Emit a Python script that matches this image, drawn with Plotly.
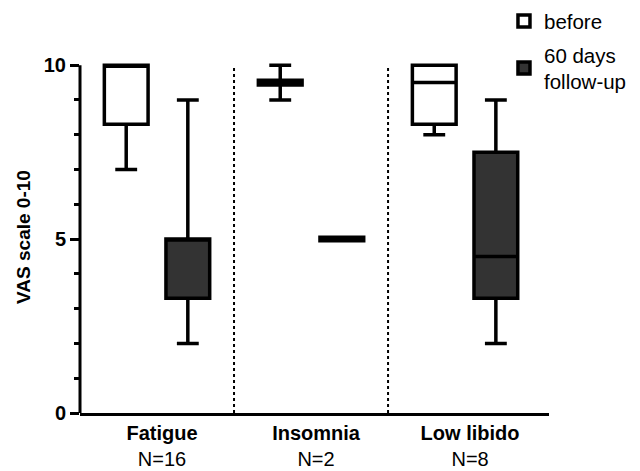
import plotly.graph_objects as go

categories = ["Fatigue", "Insomnia", "Low libido"]
n_labels = ["N=16", "N=2", "N=8"]

# before
before_low = [7.0, 9.0, 8.0]
before_q1 = [8.3, 9.43, 8.3]
before_med = [10.0, 9.5, 9.5]
before_q3 = [10.0, 9.57, 10.0]
before_high = [10.0, 10.0, 10.0]

# 60 days follow-up
after_low = [2.0, 5.0, 2.0]
after_q1 = [3.3, 4.95, 3.3]
after_med = [5.0, 5.0, 4.5]
after_q3 = [5.0, 5.05, 7.5]
after_high = [9.0, 5.0, 9.0]

y_ticks = [0, 5, 10]

FONT = "Liberation Sans, Arial, sans-serif"

fig = go.Figure()
fig.add_trace(go.Box(
    name="before", x=categories,
    q1=before_q1, median=before_med, q3=before_q3,
    lowerfence=before_low, upperfence=before_high,
    fillcolor="white", line=dict(color="black", width=3.5),
    whiskerwidth=0.5, boxpoints=False, legendgroup="a",
))
fig.add_trace(go.Box(
    name="60 days<br>follow-up", x=categories,
    q1=after_q1, median=after_med, q3=after_q3,
    lowerfence=after_low, upperfence=after_high,
    fillcolor="#333333", line=dict(color="black", width=3.5),
    whiskerwidth=0.5, boxpoints=False, legendgroup="b",
))

# separators between categories
for i in range(len(categories) - 1):
    fig.add_shape(type="line", xref="x", yref="y", x0=i + 0.5, x1=i + 0.5,
                  y0=y_ticks[0], y1=y_ticks[-1],
                  line=dict(color="black", width=2, dash="dot"))
# y axis line from 0 to 10
fig.add_shape(type="line", xref="paper", yref="y", x0=0, x1=0,
              y0=y_ticks[0], y1=y_ticks[-1], line=dict(color="black", width=3))

# the page body adds an 8px offset, so the figure is 8px smaller on each side
fig.update_layout(
    width=632, height=463,
    margin=dict(l=72, r=91, t=53, b=58, autoexpand=False),
    plot_bgcolor="white", paper_bgcolor="white",
    boxmode="group", boxgap=0.2, boxgroupgap=0.29,
    font=dict(family=FONT, size=20, color="black"),
    showlegend=True,
    legend=dict(x=0.904, y=1.17, xanchor="left", yanchor="top",
                font=dict(size=20.5, family=FONT, color="black"),
                traceorder="grouped", tracegroupgap=4,
                bgcolor="rgba(0,0,0,0)"),
)
fig.update_xaxes(
    type="category", range=[-0.5, 2.545],
    tickmode="array", tickvals=categories,
    ticktext=[f"<b>{c}</b><br>{n}" for c, n in zip(categories, n_labels)],
    showline=True, linecolor="black", linewidth=3,
    ticks="", showgrid=False, zeroline=False,
    ticklabelshift=5,
    tickfont=dict(size=20, family=FONT, color="black"),
)
fig.update_yaxes(
    range=[0, 10.12],
    tickmode="array", tickvals=y_ticks,
    ticktext=[f"<b>{v}</b>" for v in y_ticks],
    ticks="outside", ticklen=9, tickwidth=2.5, tickcolor="black",
    minor=dict(dtick=1, ticks="outside", ticklen=5, tickwidth=2.5, tickcolor="black", showgrid=False),
    showline=False, showgrid=False, zeroline=False,
    tickfont=dict(size=20, family=FONT, color="black"),
    title=dict(text="<b>VAS scale 0-10</b>", font=dict(size=19, family=FONT, color="black"), standoff=8),
)

fig.write_html("out.html")
